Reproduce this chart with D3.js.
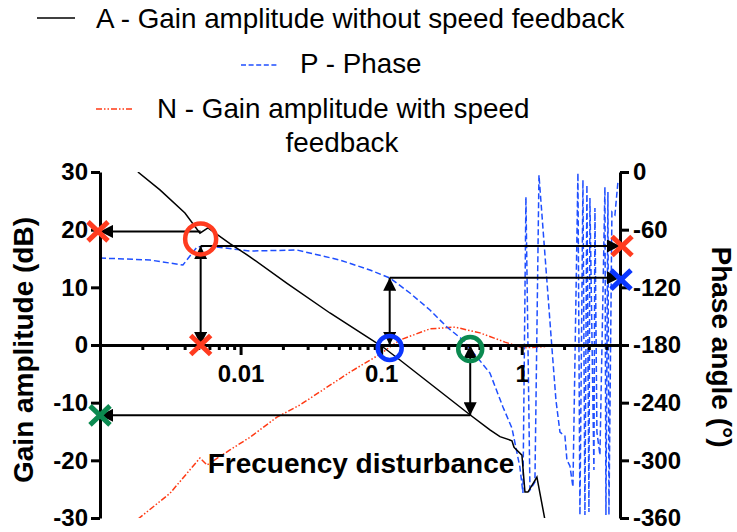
<!DOCTYPE html>
<html>
<head>
<meta charset="utf-8">
<script src="https://cdn.jsdelivr.net/npm/d3@7"></script>
<style>
  body { margin: 0; background: #fff; }
  svg { display: block; font-family: "Liberation Sans", Arial, sans-serif; }
  .axis path, .axis line { stroke: #000; stroke-width: 3; }
  .axis text { font-size: 24px; font-weight: bold; fill: #000; font-family: "Liberation Sans", Arial, sans-serif; }
  .legend text { font-size: 27.8px; fill: #000; }
  .title { font-size: 28px; font-weight: bold; fill: #000; }
</style>
</head>
<body>
<div id="chart"></div>
<script>
// A - gain without speed feedback (Hz, dB)
const freqA = [0.00186, 0.00267, 0.00402, 0.00514, 0.00586, 0.0084, 0.01166, 0.0214, 0.0432, 0.103, 0.136, 0.428,
  0.594, 0.70, 0.852, 0.88, 0.895, 1.003, 1.054, 1.107, 1.282, 1.462];
const gainA = [30.0, 26.9, 22.9, 19.4, 20.3, 17.6, 15.3, 10.7, 5.55, -0.35, -2.6, -12.1,
  -14.7, -15.9, -16.6, -17.7, -17.9, -19.1, -25.5, -25.5, -22.9, -30.3];

// N - gain with speed feedback (Hz, dB)
const freqN = [0.00186, 0.00315, 0.00514, 0.00577, 0.0084, 0.01166, 0.01815, 0.02645, 0.06, 0.098, 0.136, 0.2224,
  0.3349, 0.5044, 0.7596, 1.02, 1.347, 1.87, 4.994];
const gainN = [-30.2, -25.7, -19.6, -20.8, -18.2, -16.0, -12.5, -10.4, -4.7, -1.6, 0.87, 2.8,
  3.1, 2.1, 0.5, -0.5, -0.35, 0, 0];

// P - phase (Hz, degrees)
const freqP = [0.001, 0.00227, 0.00389, 0.0049, 0.00586, 0.01166, 0.0252, 0.0509, 0.0832, 0.1155, 0.1602, 0.2224,
  0.2938, 0.3818, 0.4802, 0.594, 0.735, 0.8517, 0.970, 1.020, 1.071, 1.144, 1.241, 1.326, 1.640, 1.751, 1.870,
  2.029, 2.096, 2.202, 2.313, 2.510, 2.594, 2.725, 2.815, 2.908, 3.006, 3.055, 3.262, 3.316, 3.426, 3.600, 3.906,
  3.971, 4.103, 4.171, 4.380, 4.602, 4.833];
const phaseP = [-89.5, -91.6, -96.8, -78, -77, -82.2, -81.2, -91.6, -102, -110.3, -125.9, -143.6,
  -161.3, -174.8, -192.5, -209.2, -244.5, -266.4, -307, -334, -26, -330.9, -322.6, -3.1, -183.1, -237.3, -270.6,
  -274.7, -299.7, -305.9, -327.8, -1.0, -356.9, -8.3, -356.9, -13.5, -353.8, -27.1, -310.1, -37.5, -270.6, -294.5, -15.6,
  -356.9, -20.8, -356.9, -41.6, -44.7, -10.4];

// ticks
const gainTicks = [-30, -20, -10, 0, 10, 20, 30];
const phaseTicks = [0, -60, -120, -180, -240, -300, -360];
const xMajor = [0.01, 0.1, 1];
const xLabels = ['0.01', '0.1', '1'];
const xMinor = [0.002, 0.003, 0.004, 0.005, 0.006, 0.007, 0.008, 0.009,
  0.02, 0.03, 0.04, 0.05, 0.06, 0.07, 0.08, 0.09,
  0.2, 0.3, 0.4, 0.5, 0.6, 0.7, 0.8, 0.9, 2, 3, 4, 5];

// read-off points (Hz, dB / degrees)
const redF = 0.0052, redGain = 19.7, redCircleGain = 18.4, redPhase = -77;
const blueF = 0.115, bluePhase = -110;
const greenF = 0.43, greenGain = -12.2;

const W = 737, H = 532;
const svg = d3.select('#chart').append('svg').attr('width', W).attr('height', H);

const x = d3.scaleLog().domain([0.001, 5]).range([100, 620]);
const yL = d3.scaleLinear().domain([-30, 30]).range([518, 172]);
const yR = d3.scaleLinear().domain([-360, 0]).range([518, 172]);

const defs = svg.append('defs');
defs.append('marker').attr('id', 'arrow')
  .attr('viewBox', '0 0 12 12').attr('refX', 12).attr('refY', 6)
  .attr('markerWidth', 13).attr('markerHeight', 13)
  .attr('markerUnits', 'userSpaceOnUse')
  .attr('orient', 'auto-start-reverse')
  .append('path').attr('d', 'M0,0 L12,6 L0,12 Z').attr('fill', '#000');
defs.append('clipPath').attr('id', 'plot')
  .append('rect').attr('x', 100).attr('y', 172).attr('width', 520).attr('height', 346);

// legend
const legend = svg.append('g').attr('class', 'legend');
const legendRows = [
  {x1: 37, x2: 75, y: 18, color: '#000', dash: null, tx: 96, ty: 28, text: 'A - Gain amplitude without speed feedback'},
  {x1: 241, x2: 279, y: 65, color: '#1f4fff', dash: '5,2.6', tx: 300, ty: 73, text: 'P - Phase'},
  {x1: 96, x2: 134, y: 109, color: '#ff3a14', dash: '6,2,1.5,2,1.5,2', tx: 157, ty: 118, text: 'N - Gain amplitude with speed'}
];
legendRows.forEach(r => {
  legend.append('line').attr('x1', r.x1).attr('x2', r.x2).attr('y1', r.y).attr('y2', r.y)
    .attr('stroke', r.color).attr('stroke-width', 1.5).attr('stroke-dasharray', r.dash);
  legend.append('text').attr('x', r.tx).attr('y', r.ty).text(r.text);
});
legend.append('text').attr('x', 342).attr('y', 152).attr('text-anchor', 'middle').text('feedback');

// curves
const lineGain = d3.line().x(d => x(d[0])).y(d => yL(d[1]));
const linePhase = d3.line().x(d => x(d[0])).y(d => yR(d[1]));
const curves = svg.append('g').attr('clip-path', 'url(#plot)');
curves.append('path').datum(d3.zip(freqN, gainN)).attr('d', lineGain)
  .attr('fill', 'none').attr('stroke', '#ff3a14').attr('stroke-width', 1.5)
  .attr('stroke-dasharray', '6,2,1.5,2,1.5,2');
curves.append('path').datum(d3.zip(freqP, phaseP)).attr('d', linePhase)
  .attr('fill', 'none').attr('stroke', '#1f4fff').attr('stroke-width', 1.5)
  .attr('stroke-dasharray', '6,3');
curves.append('path').datum(d3.zip(freqA, gainA)).attr('d', lineGain)
  .attr('fill', 'none').attr('stroke', '#000').attr('stroke-width', 1.5);

// axes
svg.append('g').attr('class', 'axis').attr('transform', `translate(${x(0.001)},0)`)
  .call(d3.axisLeft(yL).tickValues(gainTicks).tickSize(9).tickSizeOuter(0).tickPadding(3).tickFormat(d => String(d)));
svg.append('g').attr('class', 'axis').attr('transform', `translate(${x(5)},0)`)
  .call(d3.axisRight(yR).tickValues(phaseTicks).tickSize(9).tickSizeOuter(0).tickPadding(4).tickFormat(d => String(d)));
const xAxis = svg.append('g').attr('class', 'axis').attr('transform', `translate(0,${yL(0)})`)
  .call(d3.axisBottom(x).tickValues(xMajor.concat(xMinor)).tickSize(5).tickSizeOuter(0).tickPadding(15)
    .tickFormat(d => { const i = xMajor.indexOf(d); return i >= 0 ? xLabels[i] : ''; }));
xAxis.selectAll('.tick line').attr('stroke-width', 2.5)
  .filter(d => xMajor.includes(d)).attr('y2', 10);

// axis titles
svg.append('text').attr('class', 'title').attr('text-anchor', 'middle')
  .attr('transform', 'translate(33,350) rotate(-90)').text('Gain amplitude (dB)');
svg.append('text').attr('class', 'title').attr('text-anchor', 'middle')
  .attr('transform', 'translate(712,347) rotate(90)').text('Phase angle (°)');
svg.append('text').attr('class', 'title').attr('text-anchor', 'middle')
  .attr('x', 361).attr('y', 473).text('Frecuency disturbance');

// read-off arrows
const arrows = [
  {x1: x(redF), y1: yL(redGain), x2: x(0.001), y2: yL(redGain), start: false},
  {x1: x(redF), y1: yL(0), x2: x(redF), y2: yR(redPhase), start: true},
  {x1: x(redF), y1: yR(redPhase), x2: x(5), y2: yR(redPhase), start: false},
  {x1: x(blueF), y1: yL(0), x2: x(blueF), y2: yR(bluePhase), start: true},
  {x1: x(blueF), y1: yR(bluePhase), x2: x(5), y2: yR(bluePhase), start: false},
  {x1: x(greenF), y1: yL(0), x2: x(greenF), y2: yL(greenGain), start: true},
  {x1: x(greenF), y1: yL(greenGain), x2: x(0.001), y2: yL(greenGain), start: false}
];
svg.append('g').selectAll('line').data(arrows).join('line')
  .attr('x1', d => d.x1).attr('y1', d => d.y1).attr('x2', d => d.x2).attr('y2', d => d.y2)
  .attr('stroke', '#000').attr('stroke-width', 2)
  .attr('marker-end', 'url(#arrow)')
  .attr('marker-start', d => d.start ? 'url(#arrow)' : null);

// circles
const circles = [
  {f: redF, g: redCircleGain, r: 15.5, color: '#ff3b1f'},
  {f: blueF, g: -0.5, r: 12, color: '#0a36ff'},
  {f: greenF, g: -0.7, r: 12, color: '#0b8a50'}
];
svg.append('g').selectAll('circle').data(circles).join('circle')
  .attr('cx', d => x(d.f)).attr('cy', d => yL(d.g)).attr('r', d => d.r)
  .attr('fill', 'none').attr('stroke', d => d.color).attr('stroke-width', 4.5);

// cross markers
const crosses = [
  {cx: x(0.001) - 2, cy: yL(redGain), color: '#ff3b1f'},
  {cx: x(redF), cy: yL(0), color: '#ff3b1f'},
  {cx: x(5) + 2, cy: yR(redPhase), color: '#ff3b1f'},
  {cx: x(5) + 1, cy: yR(bluePhase - 2), color: '#0a36ff'},
  {cx: x(0.001), cy: yL(greenGain), color: '#0b8a50'}
];
svg.append('g').selectAll('path').data(crosses).join('path')
  .attr('d', d => `M${d.cx - 10},${d.cy - 9.5}L${d.cx + 10},${d.cy + 9.5}M${d.cx - 10},${d.cy + 9.5}L${d.cx + 10},${d.cy - 9.5}`)
  .attr('stroke', d => d.color).attr('stroke-width', 5).attr('fill', 'none');
</script>
</body>
</html>
